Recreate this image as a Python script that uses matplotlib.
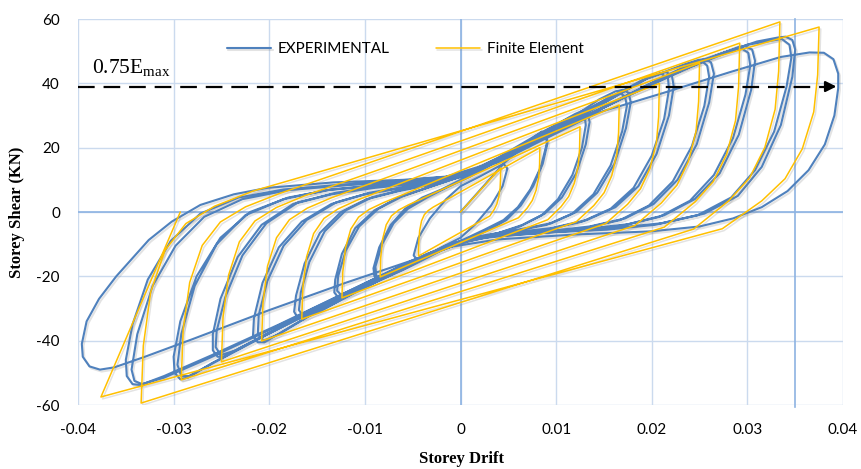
import matplotlib
matplotlib.use("Agg")
import matplotlib.pyplot as plt
import matplotlib.patheffects as pe

# ---------------- data ----------------
X_TICKS = [-0.04, -0.03, -0.02, -0.01, 0.0, 0.01, 0.02, 0.03, 0.04]
X_TICK_LABELS = ["-0.04", "-0.03", "-0.02", "-0.01", "0", "0.01", "0.02", "0.03", "0.04"]
Y_TICKS = [-60, -40, -20, 0, 20, 40, 60]
Y_TICK_LABELS = ["-60", "-40", "-20", "0", "20", "40", "60"]
SERIES_NAMES = ["EXPERIMENTAL", "Finite Element"]
EMAX_075 = 39.0          # 0.75 Emax level (kN)
REF_DRIFT = 0.035        # extra vertical reference line

# Experimental hysteresis (drift, shear), cycle by cycle
EXP_C1 = [(0, 0), (0.0015, 5), (0.003, 10), (0.0045, 15), (0.0049, 13.5), (0.0044, 8), (0.0032, 2),
          (0.0015, -4), (0, -8), (-0.002, -11), (-0.0045, -15), (-0.0049, -13.5), (-0.0044, -8),
          (-0.0032, -2), (-0.0015, 4), (0, 8), (0.002, 11), (0.0045, 15)]
EXP_C2 = [(0.006, 19), (0.0078, 23.5), (0.0085, 25), (0.009, 24), (0.0091, 21.5), (0.0086, 15), (0.0076, 8),
          (0.0063, 2), (0.0048, -2.5), (0.003, -5.5), (0, -9.5), (-0.003, -13), (-0.006, -17), (-0.0078, -20),
          (-0.0085, -21), (-0.009, -20), (-0.0091, -17.5), (-0.0085, -11), (-0.0073, -4), (-0.0058, 1),
          (-0.004, 4.5), (-0.002, 7), (0, 10), (0.003, 15), (0.006, 20), (0.0082, 24),
          (0.0086, 24.5), (0.009, 23.5), (0.009, 21), (0.0084, 14), (0.0073, 7), (0.006, 1.5), (0.0045, -2.5),
          (0.0025, -5.5), (0, -9), (-0.003, -12.5), (-0.006, -16.5), (-0.0082, -20), (-0.0088, -20),
          (-0.0089, -17), (-0.0082, -10), (-0.007, -3.5), (-0.0055, 1), (-0.0035, 4.5), (-0.0015, 7.5),
          (0.001, 11), (0.004, 16), (0.007, 21)]
EXP_C3 = [(0.0105, 28), (0.012, 30.5), (0.0128, 31.5), (0.0133, 30.5), (0.0135, 28), (0.0131, 21),
          (0.0121, 12), (0.0106, 4.5), (0.0088, -0.5), (0.0065, -4), (0.004, -6.5), (0.001, -8.5),
          (-0.002, -12), (-0.006, -18), (-0.0105, -24), (-0.0122, -26.5), (-0.0128, -26.5), (-0.0132, -25),
          (-0.0131, -21), (-0.0124, -13), (-0.011, -5), (-0.009, 0.5), (-0.0065, 4.5), (-0.0035, 7.5),
          (0, 11), (0.004, 17), (0.008, 24), (0.0115, 29.5),
          (0.0125, 30.5), (0.013, 29.5), (0.0131, 27), (0.0127, 20), (0.0117, 11.5), (0.0102, 4),
          (0.0085, -1), (0.0062, -4.5), (0.0035, -7), (0.0005, -9), (-0.0025, -12.5), (-0.0065, -18.5),
          (-0.0108, -24.5), (-0.0124, -26), (-0.0129, -24.5), (-0.0128, -20), (-0.012, -12), (-0.0106, -4.5),
          (-0.0086, 1), (-0.006, 5), (-0.003, 8), (0.0005, 11.5), (0.0045, 17.5), (0.0085, 24.5), (0.012, 30)]
EXP_C4 = [(0.0145, 35), (0.0162, 37.5), (0.017, 38), (0.0176, 37), (0.0178, 34), (0.0173, 26), (0.0161, 15),
          (0.0143, 6), (0.0121, 0), (0.0095, -3.5), (0.006, -5.5), (0.002, -7.5), (-0.001, -10),
          (-0.005, -16), (-0.01, -23.5), (-0.0145, -30.5), (-0.0163, -33), (-0.017, -33), (-0.0174, -31),
          (-0.0172, -26), (-0.0163, -16), (-0.0147, -6.5), (-0.0125, 0), (-0.0098, 4), (-0.0065, 6.5),
          (-0.003, 8.5), (0, 11), (0.005, 18), (0.011, 28), (0.0155, 35.5),
          (0.0166, 37), (0.0172, 36), (0.0174, 33), (0.0169, 25), (0.0157, 14.5), (0.0139, 5.5),
          (0.0117, -0.5), (0.009, -4), (0.0055, -6), (0.0015, -8), (-0.0015, -10.5), (-0.0055, -16.5),
          (-0.0105, -24), (-0.0148, -31), (-0.0164, -32.5), (-0.0169, -30.5), (-0.0167, -25),
          (-0.0158, -15.5), (-0.0142, -6), (-0.012, 0.5), (-0.0093, 4.5), (-0.006, 7), (-0.0025, 9),
          (0.0005, 11.5), (0.0055, 18.5), (0.0115, 29), (0.0165, 37)]
EXP_C5 = [(0.019, 41), (0.0207, 43), (0.0215, 43.5), (0.0221, 42.5), (0.0223, 39), (0.0218, 30),
          (0.0205, 18), (0.0186, 8), (0.0162, 1.5), (0.0132, -2.5), (0.0095, -5), (0.005, -6.5),
          (0.001, -8.5), (-0.003, -12.5), (-0.008, -20), (-0.014, -29), (-0.0188, -37.5), (-0.0205, -40.5),
          (-0.0212, -40.5), (-0.0217, -38.5), (-0.0216, -33), (-0.0207, -22), (-0.019, -11), (-0.0166, -3),
          (-0.0135, 2.5), (-0.01, 5.5), (-0.006, 7.5), (-0.002, 9.5), (0.001, 11.5), (0.007, 21),
          (0.013, 30.5), (0.0195, 41.5),
          (0.021, 43), (0.0217, 41.5), (0.0218, 38), (0.0213, 29), (0.02, 17.5), (0.0181, 7.5), (0.0157, 1),
          (0.0127, -3), (0.009, -5.5), (0.0045, -7), (0.0005, -9), (-0.0035, -13), (-0.0085, -21),
          (-0.0145, -30), (-0.019, -38), (-0.0206, -40), (-0.0212, -38), (-0.0211, -32), (-0.0202, -21.5),
          (-0.0185, -10.5), (-0.0161, -2.5), (-0.013, 3), (-0.0095, 6), (-0.0055, 8), (-0.0015, 10),
          (0.0015, 12.5), (0.0075, 22), (0.0135, 31.5), (0.0195, 41.5)]
EXP_C6 = [(0.0235, 46), (0.0249, 47.3), (0.0256, 47.5), (0.0262, 46.5), (0.0265, 43), (0.026, 34),
          (0.0247, 21), (0.0227, 10), (0.0202, 2.5), (0.0172, -2), (0.0135, -4.5), (0.009, -6), (0.004, -7),
          (0.0005, -9), (-0.004, -14), (-0.011, -24), (-0.018, -34.5), (-0.0232, -42.5), (-0.0247, -45),
          (-0.0254, -45), (-0.0259, -43), (-0.0259, -38), (-0.0251, -27), (-0.0233, -14), (-0.0208, -4),
          (-0.0175, 2.5), (-0.0135, 5.5), (-0.009, 7.5), (-0.004, 9), (0, 11), (0.005, 17.5), (0.012, 28),
          (0.019, 38.5), (0.024, 46),
          (0.0252, 47), (0.0258, 45.5), (0.026, 42), (0.0255, 33), (0.0242, 20.5), (0.0222, 9.5),
          (0.0197, 2), (0.0167, -2.5), (0.013, -5), (0.0085, -6.5), (0.0035, -7.5), (0, -9.5),
          (-0.0045, -14.5), (-0.0115, -25), (-0.0185, -35.5), (-0.0235, -43), (-0.0251, -44.5),
          (-0.0256, -42), (-0.0255, -37), (-0.0246, -26.5), (-0.0228, -13.5), (-0.0203, -3.5), (-0.017, 3),
          (-0.013, 6), (-0.0085, 8), (-0.0035, 9.5), (0.0005, 11.5), (0.0055, 18.5), (0.0125, 29),
          (0.0195, 39.5), (0.0245, 46.5)]
EXP_C7 = [(0.0275, 49.5), (0.0291, 51.3), (0.0298, 51.5), (0.0305, 50.5), (0.0308, 47), (0.0304, 38),
          (0.0291, 24), (0.0271, 12), (0.0245, 4), (0.0213, -1), (0.0175, -3.8), (0.013, -5.3),
          (0.008, -6.3), (0.003, -7.5), (-0.001, -10), (-0.006, -17), (-0.013, -27), (-0.02, -37.5),
          (-0.026, -47), (-0.0285, -51.5), (-0.0293, -52), (-0.0299, -50), (-0.03, -45), (-0.0293, -34),
          (-0.0276, -20), (-0.0251, -8), (-0.022, 0), (-0.018, 4.5), (-0.0135, 7), (-0.008, 8.5),
          (-0.003, 10), (0.001, 12.5), (0.008, 22), (0.015, 32.5), (0.022, 42.5), (0.0275, 49.5),
          (0.0293, 51), (0.0301, 49.5), (0.0303, 45.5), (0.0298, 36.5), (0.0285, 23), (0.0265, 11.5),
          (0.024, 3.5), (0.0208, -1.5), (0.017, -4.2), (0.0125, -5.7), (0.0075, -6.7), (0.0025, -8),
          (-0.0015, -10.8), (-0.0065, -18), (-0.0135, -28), (-0.0205, -38.5), (-0.0262, -47.5),
          (-0.0284, -51), (-0.0292, -51), (-0.0296, -47.5), (-0.0292, -38), (-0.0278, -23), (-0.0255, -10),
          (-0.0225, -1), (-0.0185, 4), (-0.014, 6.8), (-0.0085, 8.3), (-0.0035, 9.8), (0.0005, 12),
          (0.0075, 21.5), (0.0145, 32), (0.0215, 42), (0.027, 49)]
EXP_C8 = [(0.031, 53), (0.0333, 54.3), (0.034, 54.5), (0.0347, 53.5), (0.035, 50.5), (0.0347, 42),
          (0.0335, 27), (0.0315, 14), (0.029, 5), (0.0255, -0.5), (0.021, -3.5), (0.016, -5), (0.01, -5.8),
          (0.004, -6.8), (0, -9), (-0.005, -15), (-0.012, -25), (-0.019, -35), (-0.026, -44.5),
          (-0.031, -51), (-0.0335, -53.8), (-0.0343, -53.5), (-0.0349, -51), (-0.035, -46), (-0.0343, -35),
          (-0.0327, -21), (-0.0303, -9), (-0.0272, -0.5), (-0.0232, 4.5), (-0.0185, 7), (-0.0125, 8.5),
          (-0.006, 9.8), (-0.001, 11), (0.003, 14.5), (0.01, 25), (0.017, 35.5), (0.024, 45), (0.03, 52),
          (0.0336, 53.8), (0.0344, 52), (0.0346, 48), (0.0341, 39), (0.0328, 25), (0.0308, 13),
          (0.0283, 4.5), (0.0248, -1), (0.0203, -4), (0.0153, -5.5), (0.0095, -6.3), (0.0035, -7.3),
          (-0.0005, -9.5), (-0.0055, -15.8), (-0.0125, -25.8), (-0.0195, -36), (-0.0262, -45.3),
          (-0.031, -51.5), (-0.0333, -53.5), (-0.0341, -52.5), (-0.0344, -49), (-0.0338, -38),
          (-0.0322, -23), (-0.0298, -10.5), (-0.0268, -1.5), (-0.0228, 4), (-0.018, 6.8), (-0.012, 8.3),
          (-0.0055, 9.6), (-0.0005, 11.2), (0.004, 15.5), (0.008, 21.5)]
EXP_C9 = [(0.0143, 30.8), (0.0212, 37), (0.0282, 43.5), (0.0335, 48.2), (0.0365, 49.6), (0.038, 49.5),
          (0.039, 47.5), (0.0395, 43), (0.0395, 38.5), (0.0391, 30), (0.0381, 21), (0.0364, 13),
          (0.0342, 6.5), (0.0315, 1.5), (0.0285, -2), (0.025, -4.5), (0.02, -6), (0.012, -7), (0.004, -8.5),
          (-0.001, -10.8), (-0.005, -15), (-0.012, -22), (-0.02, -30.5), (-0.028, -39.5), (-0.033, -45),
          (-0.0362, -48.3), (-0.0377, -49), (-0.0388, -48), (-0.0395, -45), (-0.0396, -41), (-0.0391, -34),
          (-0.0378, -27), (-0.036, -20), (-0.0342, -14), (-0.0326, -8.7), (-0.0302, -3), (-0.0272, 2.2),
          (-0.0237, 5.5), (-0.0202, 7.5), (-0.0133, 9.2), (-0.006, 10), (-0.0015, 11), (0.003, 15)]

# Finite element hysteresis (drift, shear), cycle by cycle
FE_C1 = [(0, 0), (0.0042, 13.7), (0.00418, 10.1), (0.00414, 7.4), (0.0040, 4.66), (0.0038, 2.47),
         (0.00353, 0.82), (0.00307, -1.23), (-0.0044, -13.7), (-0.00437, -9.6), (-0.00427, -5.75),
         (-0.00407, -2.74), (-0.00378, -0.82), (-0.00339, 0.41), (-0.00286, 1.5)]
FE_C2 = [(0.0083, 20), (0.00827, 14.8), (0.00818, 10.8), (0.00791, 6.8), (0.00751, 3.6), (0.00697, 1.2),
         (0.00606, -1.8), (-0.0084, -20.2), (-0.00834, -14.1), (-0.00815, -8.5), (-0.00777, -4.0),
         (-0.00722, -1.2), (-0.00647, 0.6), (-0.00546, 2.2)]
FE_C3 = [(0.0125, 26.5), (0.01245, 19.6), (0.01231, 14.3), (0.01191, 9.0), (0.01131, 4.8), (0.0105, 1.6),
         (0.00913, -2.4), (-0.0124, -26.7), (-0.01231, -18.7), (-0.01203, -11.2), (-0.01147, -5.3),
         (-0.01066, -1.6), (-0.00955, 0.8), (-0.00806, 2.9)]
FE_C4 = [(0.0166, 33.3), (0.01653, 24.6), (0.01635, 18), (0.01582, 11.3), (0.01502, 6), (0.01394, 2),
         (0.01212, -3), (-0.0166, -33.3), (-0.01648, -23.3), (-0.0161, -14), (-0.01536, -6.7),
         (-0.01428, -2), (-0.01278, 1), (-0.01079, 3.7)]
FE_C5 = [(0.0208, 40), (0.02072, 29.6), (0.02049, 21.6), (0.01982, 13.6), (0.01882, 7.2), (0.01747, 2.4),
         (0.01518, -3.6), (-0.0208, -40.1), (-0.02065, -28.1), (-0.02018, -16.8), (-0.01924, -8),
         (-0.01789, -2.4), (-0.01602, 1.2), (-0.01352, 4.4)]
FE_C6 = [(0.025, 46.3), (0.0249, 34.3), (0.02463, 25), (0.02383, 15.7), (0.02263, 8.3), (0.021, 2.8),
         (0.01825, -4.2), (-0.025, -46.6), (-0.02483, -32.6), (-0.02425, -19.6), (-0.02313, -9.3),
         (-0.0215, -2.8), (-0.01925, 1.4), (-0.01625, 5.1)]
FE_C7 = [(0.0292, 52.5), (0.02908, 38.9), (0.02876, 28.4), (0.02783, 17.9), (0.02643, 9.45), (0.02453, 3.15),
         (0.02132, -4.7), (-0.0292, -52.2), (-0.029, -36.5), (-0.02832, -21.9), (-0.02701, -10.4),
         (-0.02511, -3.1), (-0.02248, 1.6), (-0.01898, 5.7)]
FE_C8 = [(0.0334, 59.1), (0.03327, 43.7), (0.0329, 31.9), (0.03183, 20.1), (0.03023, 10.6), (0.02806, 3.5),
         (0.02438, -5.3), (-0.0334, -59.4), (-0.03317, -41.6), (-0.0324, -24.9), (-0.0309, -11.9),
         (-0.02872, -3.6), (-0.02572, 1.8), (-0.02171, 6.5)]
FE_C9 = [(0.0375, 57.5), (0.03735, 42.6), (0.03694, 31.1), (0.03574, 19.6), (0.03394, 10.35), (0.0315, 3.45),
         (0.02738, -5.2), (-0.0376, -57.5), (-0.0293, 0)]

EXP_CYCLES = [EXP_C1, EXP_C2, EXP_C3, EXP_C4, EXP_C5, EXP_C6, EXP_C7, EXP_C8, EXP_C9]
FE_CYCLES = [FE_C1, FE_C2, FE_C3, FE_C4, FE_C5, FE_C6, FE_C7, FE_C8, FE_C9]

# ---------------- styles ----------------
BLUE = "#4f81bd"
GOLD = "#ffc000"
GRID = "#cbdaee"
AXIS = "#8db3e2"
SANS = ["Lato", "DejaVu Sans"]
SERIF = ["Liberation Serif", "DejaVu Serif"]

plt.rcParams["mathtext.fontset"] = "custom"
plt.rcParams["mathtext.rm"] = "Liberation Serif"

W, H = 861, 469
fig = plt.figure(figsize=(W / 100, H / 100), dpi=100)
L, R, T, B = 78, 843, 19, 405
ax = fig.add_axes([L / W, 1 - B / H, (R - L) / W, (B - T) / H])
ax.set_xlim(X_TICKS[0], X_TICKS[-1])
ax.set_ylim(Y_TICKS[0], Y_TICKS[-1])
ax.set_xticks(X_TICKS)
ax.set_xticklabels(X_TICK_LABELS)
ax.set_yticks(Y_TICKS)
ax.set_yticklabels(Y_TICK_LABELS)
for s in ax.spines.values():
    s.set_visible(False)
ax.tick_params(length=0, pad=13, labelsize=11)
for lab in ax.get_xticklabels() + ax.get_yticklabels():
    lab.set_family(SANS)
ax.grid(True, color=GRID, lw=1.0, zorder=0)
ax.set_axisbelow(True)
ax.axhline(0, color=AXIS, lw=1.2, zorder=1)
ax.axvline(0, color=AXIS, lw=1.2, zorder=1)
ax.axvline(REF_DRIFT, ymin=-0.006, ymax=1, color=AXIS, lw=1.2, zorder=1, clip_on=False)

shadow = [pe.SimpleLineShadow(offset=(1.2, -1.4), shadow_color="#808080", alpha=0.22), pe.Normal()]

ex = [p[0] for c in EXP_CYCLES for p in c]
ey = [p[1] for c in EXP_CYCLES for p in c]
fx = [p[0] for c in FE_CYCLES for p in c]
fy = [p[1] for c in FE_CYCLES for p in c]

l1, = ax.plot(ex, ey, color=BLUE, lw=1.5, solid_joinstyle="round", solid_capstyle="round",
              path_effects=shadow, zorder=3, label=SERIES_NAMES[0])
l2, = ax.plot(fx, fy, color=GOLD, lw=1.1, solid_joinstyle="round", solid_capstyle="round",
              path_effects=shadow, zorder=4, label=SERIES_NAMES[1])

# 0.75 Emax dashed arrow
ax.plot([X_TICKS[0], 0.0388], [EMAX_075, EMAX_075], color="black", lw=1.6, dashes=(7.5, 4), zorder=6,
        clip_on=False)
ax.annotate("", xy=(0.0396, EMAX_075), xytext=(0.0380, EMAX_075),
            arrowprops=dict(arrowstyle="-|>", color="black", lw=1.6, mutation_scale=16), zorder=7)
ax.text(-0.0385, 43.2, r"0.75E$_{\mathrm{max}}$", fontsize=15.5, family=SERIF, va="baseline", ha="left",
        zorder=7)

fig.legend(handles=[l1, l2], loc="center", bbox_to_anchor=(405 / W, 1 - 49 / H), ncol=2, frameon=False,
           handlelength=2.9, handletextpad=0.45, columnspacing=3.0, prop={"family": SANS, "size": 11})

fig.text(17 / W, 1 - 212 / H, "Storey Shear (KN)", rotation=90, family=SERIF, weight="bold", fontsize=12,
         ha="center", va="center")
fig.text(461 / W, 1 - 459 / H, "Storey Drift", family=SERIF, weight="bold", fontsize=12,
         ha="center", va="center")

fig.savefig("out.png", dpi=100)
